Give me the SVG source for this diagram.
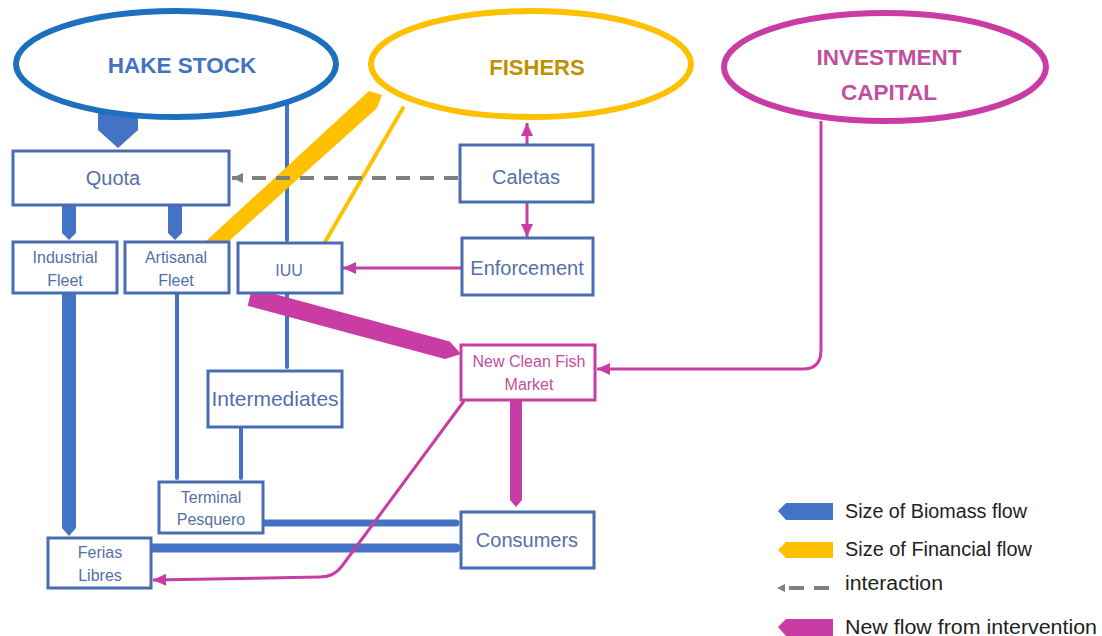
<svg xmlns="http://www.w3.org/2000/svg" width="1102" height="636" viewBox="0 0 1102 636">
<defs>
<style>
.box{fill:#fff;stroke:#4a6cb2;stroke-width:3}
.pbox{fill:#fff;stroke:#c93ca3;stroke-width:3}
.t{font-family:"Liberation Sans",Arial,sans-serif;fill:#5470a8;text-anchor:middle}
.big{font-size:20px}
.sm{font-size:16px}
.pt{font-family:"Liberation Sans",Arial,sans-serif;fill:#c0509e;text-anchor:middle;font-size:16px}
.ell{font-family:"Liberation Sans",Arial,sans-serif;font-weight:bold;text-anchor:middle}
.bio{fill:#4472c4}
.fin{fill:#ffc000}
.new{fill:#c93ca3}
.bl{stroke:#4472c4;fill:none;stroke-linecap:round}
.pl{stroke:#c93ca3;stroke-width:3;fill:none}
.leg{font-family:"Liberation Sans",Arial,sans-serif;font-size:20px;fill:#222}
</style>
<marker id="pa" markerUnits="userSpaceOnUse" markerWidth="14" markerHeight="14" viewBox="0 0 14 14" refX="13" refY="7" orient="auto">
<path d="M0,1 L13,7 L0,13 Z" fill="#c93ca3"/>
</marker>
<marker id="ga" markerUnits="userSpaceOnUse" markerWidth="12" markerHeight="12" viewBox="0 0 12 12" refX="11" refY="6" orient="auto">
<path d="M0,1 L11,6 L0,11 Z" fill="#7f7f7f"/>
</marker>
</defs>
<rect width="1102" height="636" fill="#fff"/>

<g id="connectors">
<polygon class="bio" points="98,113 138,113 138,130 118,148 98,130"/>
<polygon class="bio" points="62,205 76,205 76,233 69,240 62,233"/>
<polygon class="bio" points="168,205 182,205 182,233 175,240 168,233"/>
<polygon class="bio" points="62,293 76,293 76,528 69,536 62,528"/>
<line class="bl" x1="287" y1="104" x2="287" y2="240" stroke-width="4"/>
<line class="bl" x1="177" y1="294" x2="177" y2="478" stroke-width="4"/>
<line class="bl" x1="287" y1="294" x2="287" y2="367" stroke-width="4"/>
<line class="bl" x1="241" y1="428" x2="241" y2="478" stroke-width="4"/>
<line class="bl" x1="263" y1="523" x2="456" y2="523" stroke-width="7"/>
<line class="bl" x1="151" y1="548" x2="456" y2="548" stroke-width="9"/>
<polygon class="fin" points="205,242 228,242 377,108 382,95 369,91"/>
<line x1="403" y1="108" x2="325" y2="242" stroke="#ffc000" stroke-width="4" stroke-linecap="round"/>
<line x1="458" y1="178" x2="232" y2="178" stroke="#7f7f7f" stroke-width="4" stroke-dasharray="14 10" marker-end="url(#ga)"/>
<polygon class="new" points="252,288 449.8,341.6 461,354 445,359 247.7,305.7"/>
<polygon class="new" points="510,400 522,400 522,500 516,507 510,500"/>
<line class="pl" x1="527" y1="145" x2="527" y2="123" marker-end="url(#pa)"/>
<line class="pl" x1="527" y1="202" x2="527" y2="237" marker-end="url(#pa)"/>
<line class="pl" x1="462" y1="268" x2="343" y2="268" marker-end="url(#pa)"/>
<path class="pl" d="M821,121 V350 Q821,369 803,369 H597" marker-end="url(#pa)"/>
<path class="pl" d="M464,401 L342,566 Q334,577 320,577 L153,580" marker-end="url(#pa)"/>
</g>

<g id="hake-stock">
<ellipse cx="176" cy="64" rx="160" ry="53" fill="none" stroke="#1f6fbf" stroke-width="6"/>
<text class="ell" x="182" y="73" font-size="22.5" fill="#4472c4">HAKE STOCK</text>
</g>
<g id="fishers">
<ellipse cx="531" cy="64" rx="160" ry="53" fill="none" stroke="#ffc000" stroke-width="6"/>
<text class="ell" x="537" y="75" font-size="22" fill="#bf9000">FISHERS</text>
</g>
<g id="investment-capital">
<ellipse cx="885" cy="67" rx="161" ry="54" fill="none" stroke="#c93ca3" stroke-width="6"/>
<text class="ell" x="889" y="65" font-size="22.5" fill="#c0509e">INVESTMENT</text>
<text class="ell" x="889" y="100" font-size="22.5" fill="#c0509e">CAPITAL</text>
</g>
<g id="quota">
<rect class="box" x="13" y="151" width="216" height="54"/>
<text class="t big" x="113" y="185">Quota</text>
</g>
<g id="industrial-fleet">
<rect class="box" x="13" y="242" width="104" height="51"/>
<text class="t sm" x="65" y="263">Industrial</text>
<text class="t sm" x="65" y="286">Fleet</text>
</g>
<g id="artisanal-fleet">
<rect class="box" x="125" y="242" width="104" height="51"/>
<text class="t sm" x="176" y="263">Artisanal</text>
<text class="t sm" x="176" y="286">Fleet</text>
</g>
<g id="iuu">
<rect class="box" x="238" y="243" width="104" height="50"/>
<text class="t sm" x="289" y="276">IUU</text>
</g>
<g id="caletas">
<rect class="box" x="460" y="145" width="133" height="57"/>
<text class="t big" x="526" y="184">Caletas</text>
</g>
<g id="enforcement">
<rect class="box" x="462" y="238" width="131" height="57"/>
<text class="t big" x="527" y="275">Enforcement</text>
</g>
<g id="new-clean-fish-market">
<rect class="pbox" x="461" y="345" width="134" height="55"/>
<text class="pt" x="529" y="367">New Clean Fish</text>
<text class="pt" x="529" y="390">Market</text>
</g>
<g id="intermediates">
<rect class="box" x="208" y="371" width="134" height="56"/>
<text class="t" x="275" y="406" font-size="21">Intermediates</text>
</g>
<g id="terminal-pesquero">
<rect class="box" x="159" y="482" width="104" height="51"/>
<text class="t sm" x="211" y="503">Terminal</text>
<text class="t sm" x="211" y="525">Pesquero</text>
</g>
<g id="ferias-libres">
<rect class="box" x="48" y="538" width="103" height="50"/>
<text class="t sm" x="100" y="558">Ferias</text>
<text class="t sm" x="100" y="581">Libres</text>
</g>
<g id="consumers">
<rect class="box" x="461" y="512" width="133" height="56"/>
<text class="t big" x="527" y="547">Consumers</text>
</g>

<g id="legend">
<polygon class="bio" points="778,511 786,503 833,503 833,520 786,520"/>
<text class="leg" x="845" y="518" textLength="182" lengthAdjust="spacingAndGlyphs">Size of Biomass flow</text>
<polygon class="fin" points="778,550 786,542 833,542 833,558 786,558"/>
<text class="leg" x="845" y="556" textLength="187" lengthAdjust="spacingAndGlyphs">Size of Financial flow</text>
<path d="M777,588 L785,584 L785,592 Z" fill="#7f7f7f"/>
<line x1="789" y1="588" x2="832" y2="588" stroke="#7f7f7f" stroke-width="4" stroke-dasharray="15 10"/>
<text class="leg" x="845" y="590" textLength="98" lengthAdjust="spacingAndGlyphs">interaction</text>
<polygon class="new" points="778,627 786,619 833,619 833,636 786,636"/>
<text class="leg" x="845" y="634" textLength="252" lengthAdjust="spacingAndGlyphs">New flow from intervention</text>
</g>
</svg>
